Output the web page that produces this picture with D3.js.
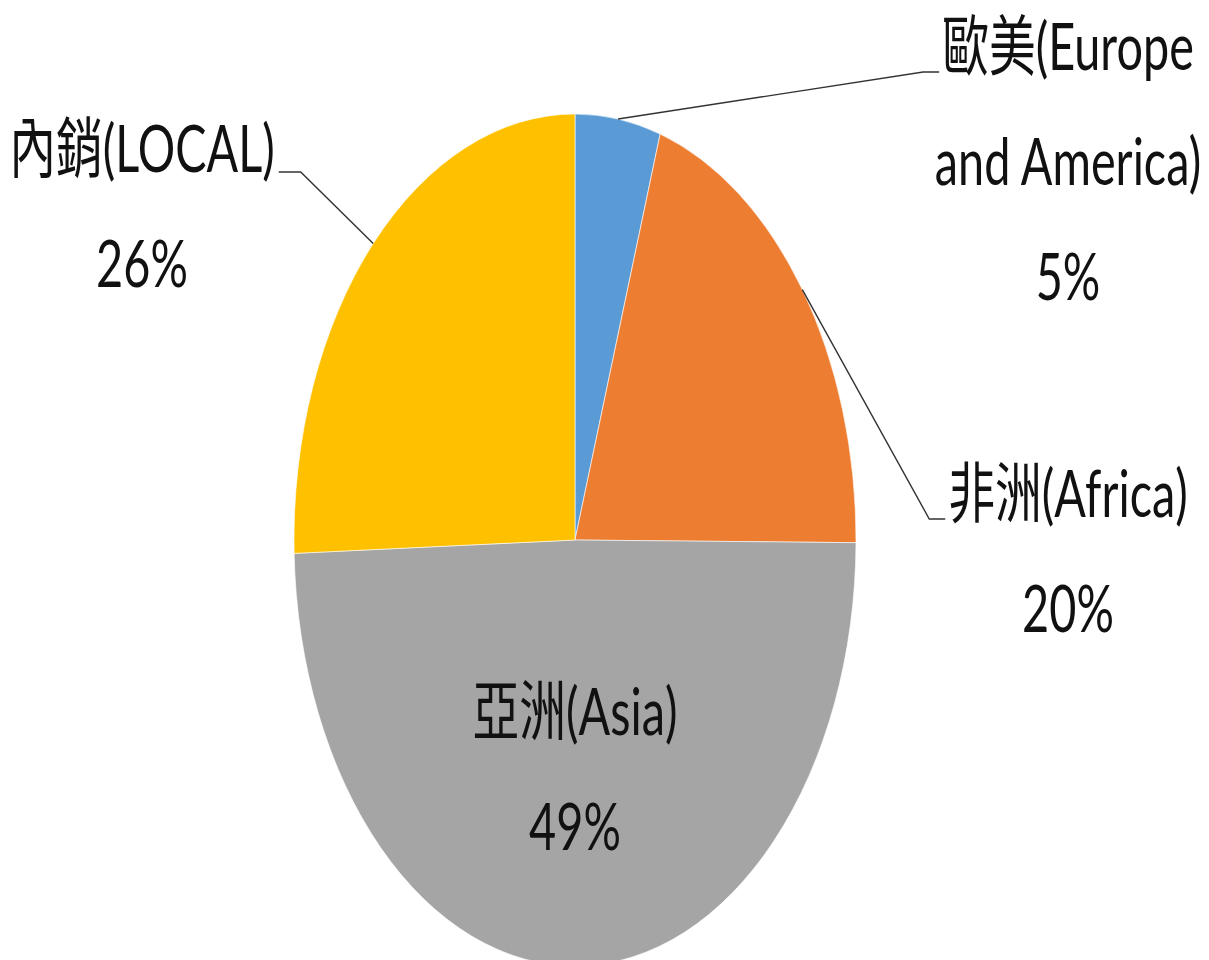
<!DOCTYPE html>
<html>
<head>
<meta charset="utf-8">
<script src="https://cdn.jsdelivr.net/npm/d3@7"></script>
<style>
  body { margin: 0; background: #fff; }
  svg { display: block; }
  .lbl { font-family: Lato, "Noto Sans CJK TC", sans-serif; fill: #111; }
</style>
</head>
<body>
<svg id="chart" width="1209" height="960"></svg>
<script>
// data (share of sales, %)
var regions = ["歐美(Europe and America)", "非洲(Africa)", "亞洲(Asia)", "內銷(LOCAL)"];
var nameLines = [["歐美(Europe", "and America)"], ["非洲(Africa)"], ["亞洲(Asia)"], ["內銷(LOCAL)"]];
var shares = [4.9, 20.2, 49.4, 25.5];
var colors = ["#5B9BD5", "#ED7D31", "#A5A5A5", "#FFC000"];

// label layout (centre x, first baseline) and whether it has a leader line
var labelPos = [
    { x: 1068, y: 70, leader: true },
    { x: 1068, y: 517, leader: true },
    { x: 575, y: 735, leader: false },
    { x: 142, y: 172, leader: true }
];

var svg = d3.select("#chart");
var cx = 575, cy = 540, rx = 281, ry = 426;
var sy = ry / rx;
var lineGap = 115;
var textSx = 1.04, textSy = 1.47;

var data = regions.map(function(r, i) {
    return { name: r, value: shares[i], color: colors[i], lines: nameLines[i], pos: labelPos[i] };
});

var total = d3.sum(shares);

var pie = d3.pie()
    .sort(null)
    .value(function(d) { return d.value; });

var arc = d3.arc()
    .innerRadius(0)
    .outerRadius(rx);

var arcs = pie(data);

// the pie is stretched vertically into an ellipse
var pieG = svg.append("g")
    .attr("transform", "translate(" + cx + "," + cy + ") scale(1," + sy + ")");

pieG.selectAll("path.slice")
    .data(arcs)
    .enter().append("path")
    .attr("class", "slice")
    .attr("d", arc)
    .attr("fill", function(d) { return d.data.color; })
    .attr("stroke", "#fff")
    .attr("stroke-width", 0.6)
    .attr("vector-effect", "non-scaling-stroke");

// labels
var labelG = svg.append("g");

arcs.forEach(function(d) {
    var p = d.data.pos;
    var lines = d.data.lines.concat([Math.round(d.data.value / total * 100) + "%"]);
    var first;
    lines.forEach(function(t, k) {
        var txt = labelG.append("text")
            .attr("class", "lbl")
            .attr("text-anchor", "middle")
            .attr("font-size", 45)
            .attr("transform", "translate(" + p.x + "," + (p.y + k * lineGap) + ") scale(" + textSx + "," + textSy + ")")
            .text(t);
        if (k === 0) first = txt;
    });

    if (!p.leader) return;

    // start of leader: ellipse edge at the middle angle of the slice
    var mid = (d.startAngle + d.endAngle) / 2;
    var sx = cx + rx * Math.sin(mid);
    var sy0 = cy - ry * Math.cos(mid);
    var half = first.node().getComputedTextLength() * textSx / 2;
    var pts;
    if (p.x > sx) {
        var left = p.x - half - 3;
        pts = [[sx, sy0], [left - 16, p.y + 2], [left, p.y + 2]];
    } else {
        var right = p.x + half + 4;
        pts = [[sx, sy0], [right + 22, p.y], [right, p.y]];
    }
    labelG.append("path")
        .attr("d", d3.line()(pts))
        .attr("fill", "none")
        .attr("stroke", "#333")
        .attr("stroke-width", 1.4);
});
</script>
</body>
</html>
